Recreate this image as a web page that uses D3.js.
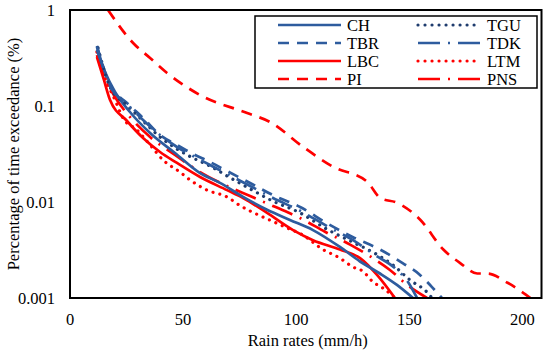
<!DOCTYPE html>
<html lang="en">
<meta charset="UTF-8">
<title>Rain rate exceedance</title>
<script src="https://d3js.org/d3.v7.min.js"></script>
<style>
  body { margin: 0; background: #fff; }
  svg, svg text { font-family: "Liberation Serif", "DejaVu Serif", serif; fill: #000; }
</style>
<body>
<svg width="550" height="351" font-family="Liberation Serif, serif"></svg>
<script>
// rain rate (mm/h), percentage of time exceeded (%)
var CH  = [[11.9,0.383],[15.5,0.226],[19.9,0.140],[26.5,0.0866],[35.4,0.0523],[46.4,0.0324],[57.5,0.0200],[66.3,0.0158],[76.5,0.0113],[87.1,0.0083],[97.2,0.0065],[107.4,0.0051],[119.3,0.0034],[128.2,0.0024],[137.0,0.0018],[144.5,0.00137],[151.6,0.001]];
var TBR = [[11.9,0.422],[17.7,0.166],[25.2,0.1075],[32.3,0.075],[39.8,0.0499],[47.3,0.0393],[54.4,0.0316],[61.9,0.0261],[69.4,0.0210],[79.6,0.0158],[89.7,0.0118],[101.7,0.00887],[113.6,0.0060],[125.1,0.0043],[137.0,0.0032],[147.2,0.0023],[154.7,0.00174],[160.0,0.0013],[164.4,0.001]];
var LBC = [[11.9,0.324],[15.0,0.187],[17.7,0.1155],[25.2,0.0698],[32.3,0.0464],[39.8,0.0332],[47.3,0.0255],[57.5,0.0182],[69.4,0.0133],[76.5,0.0110],[87.1,0.0077],[98.6,0.0051],[107.4,0.0040],[119.3,0.0032],[128.2,0.0026],[135.7,0.00174],[143.6,0.001]];
var PI  = [[16.8,1.0],[27.9,0.453],[35.4,0.316],[42.9,0.221],[57.5,0.130],[78.3,0.0845],[88.5,0.068],[103.1,0.0374],[116.4,0.0232],[131.4,0.0162],[137.2,0.0110],[144.7,0.0098],[154.9,0.0065],[165.0,0.0032],[172.6,0.0023],[180.0,0.0018],[184.5,0.0018],[193.4,0.00144],[203.5,0.001]];
var TGU = [[12.4,0.402],[17.7,0.158],[25.2,0.102],[32.3,0.0698],[39.8,0.0475],[47.3,0.0356],[54.4,0.0287],[61.9,0.0237],[69.4,0.0187],[79.6,0.0137],[89.7,0.0102],[101.7,0.0077],[113.6,0.0052],[125.1,0.0038],[133.9,0.0030],[142.8,0.0022],[150.3,0.00154],[157.8,0.00115],[160.0,0.001]];
var TDK = [[11.9,0.412],[17.7,0.162],[25.2,0.105],[32.3,0.0715],[39.8,0.0499],[47.3,0.0374],[54.4,0.0301],[61.9,0.0243],[69.4,0.0196],[79.6,0.0147],[89.7,0.0110],[101.7,0.0081],[113.6,0.0056],[125.1,0.0040],[134.8,0.0028],[143.6,0.00205],[149.4,0.00147],[153.4,0.001]];
var LTM = [[11.9,0.365],[15.5,0.196],[19.9,0.1155],[23.4,0.075],[29.6,0.0562],[35.4,0.0393],[41.1,0.0274],[48.6,0.0205],[53.0,0.0170],[60.6,0.0133],[69.4,0.0113],[75.1,0.0092],[84.0,0.0072],[91.5,0.0060],[97.2,0.0052],[101.7,0.0047],[111.8,0.0032],[119.3,0.0026],[125.1,0.0021],[129.5,0.0019],[133.9,0.00147],[138.3,0.00127],[143.6,0.001]];
var PNS = [[11.9,0.340],[15.5,0.196],[19.9,0.124],[26.5,0.0768],[35.4,0.0475],[46.4,0.0309],[57.5,0.0205],[69.4,0.0147],[79.6,0.01155],[90.6,0.0089],[101.7,0.0068],[112.7,0.0049],[123.8,0.0036],[133.9,0.0026],[141.4,0.00196],[149.0,0.00137],[157.8,0.001]];

var xTicks = [0, 50, 100, 150, 200];
var yTicks = [1, 0.1, 0.01, 0.001];
var yLabels = ["1", "0.1", "0.01", "0.001"];

var blue = "#2e5c9e", navy = "#1f3c6e", red = "#ff0000";
var dash = "11,8", dot = "0.01,7", dashDot = "22,8,2,8";
var serif = "'Liberation Serif', 'DejaVu Serif', serif";

// legend order: left column then right column
var series = [
  {name: "CH",  data: CH,  color: blue, dash: null},
  {name: "TBR", data: TBR, color: blue, dash: dash},
  {name: "LBC", data: LBC, color: red,  dash: null},
  {name: "PI",  data: PI,  color: red,  dash: dash},
  {name: "TGU", data: TGU, color: navy, dash: dot, round: true},
  {name: "TDK", data: TDK, color: blue, dash: dashDot},
  {name: "LTM", data: LTM, color: red,  dash: dot, round: true},
  {name: "PNS", data: PNS, color: red,  dash: dashDot}
];

var svg = d3.select("svg");
var pLeft = 70, pRight = 541.5, pTop = 10, pBottom = 298;

var x = d3.scaleLinear().domain([0, 208.4]).range([pLeft, pRight]);
var y = d3.scaleLog().domain([0.001, 1]).range([pBottom, pTop]);

svg.append("clipPath").attr("id", "plot")
  .append("rect").attr("x", pLeft).attr("y", pTop)
  .attr("width", pRight - pLeft).attr("height", pBottom - pTop);

var line = d3.line()
  .x(function(d) { return x(d[0]); })
  .y(function(d) { return y(d[1]); })
  .curve(d3.curveMonotoneX);

var g = svg.append("g").attr("clip-path", "url(#plot)");
// red group under blue like the original
[2, 3, 6, 7, 0, 1, 4, 5].forEach(function(i) {
  var s = series[i];
  g.append("path")
    .attr("d", line(s.data))
    .attr("fill", "none")
    .attr("stroke", s.color)
    .attr("stroke-width", s.round ? 3.2 : 2.7)
    .attr("stroke-linecap", s.round ? "round" : "butt")
    .attr("stroke-dasharray", s.dash);
});

// plot border
svg.append("rect")
  .attr("x", pLeft).attr("y", pTop)
  .attr("width", pRight - pLeft).attr("height", pBottom - pTop)
  .attr("fill", "none").attr("stroke", "#000").attr("stroke-width", 2);

// axes labels (no tick marks)
svg.selectAll(".xt").data(xTicks).enter().append("text")
  .attr("x", function(d) { return x(d); })
  .attr("y", 325)
  .attr("text-anchor", "middle")
  .style("font-family", serif)
  .style("font-size", "16.5px")
  .text(function(d) { return d; });

svg.selectAll(".yt").data(yTicks).enter().append("text")
  .attr("x", 55)
  .attr("y", function(d) { return y(d) + 5.5; })
  .attr("text-anchor", "end")
  .style("font-family", serif)
  .style("font-size", "16.5px")
  .text(function(d, i) { return yLabels[i]; });

svg.append("text")
  .attr("x", (pLeft + pRight) / 2 + 2)
  .attr("y", 346)
  .attr("text-anchor", "middle")
  .style("font-family", serif)
  .style("font-size", "16.5px")
  .text("Rain rates (mm/h)");

svg.append("text")
  .attr("transform", "translate(19," + (pTop + pBottom) / 2 + ") rotate(-90)")
  .attr("text-anchor", "middle")
  .style("font-family", serif)
  .style("font-size", "16.5px")
  .text("Percentage of time exceedance (%)");

// legend
var lg = svg.append("g");
lg.append("rect")
  .attr("x", 255).attr("y", 16).attr("width", 282).attr("height", 72)
  .attr("fill", "#fff").attr("stroke", "#000").attr("stroke-width", 1.5);

series.forEach(function(s, i) {
  var col = Math.floor(i / 4), row = i % 4;
  var x0 = col ? 418 : 278, yy = 25 + row * 18;
  lg.append("line")
    .attr("x1", x0).attr("x2", x0 + 63)
    .attr("y1", yy).attr("y2", yy)
    .attr("stroke", s.color)
    .attr("stroke-width", s.round ? 3.2 : 2.7)
    .attr("stroke-linecap", s.round ? "round" : "butt")
    .attr("stroke-dasharray", s.dash);
  lg.append("text")
    .attr("x", x0 + 69).attr("y", yy + 5.5)
    .style("font-family", serif)
    .style("font-size", "16.5px")
    .text(s.name);
});
</script>
</body>
</html>
